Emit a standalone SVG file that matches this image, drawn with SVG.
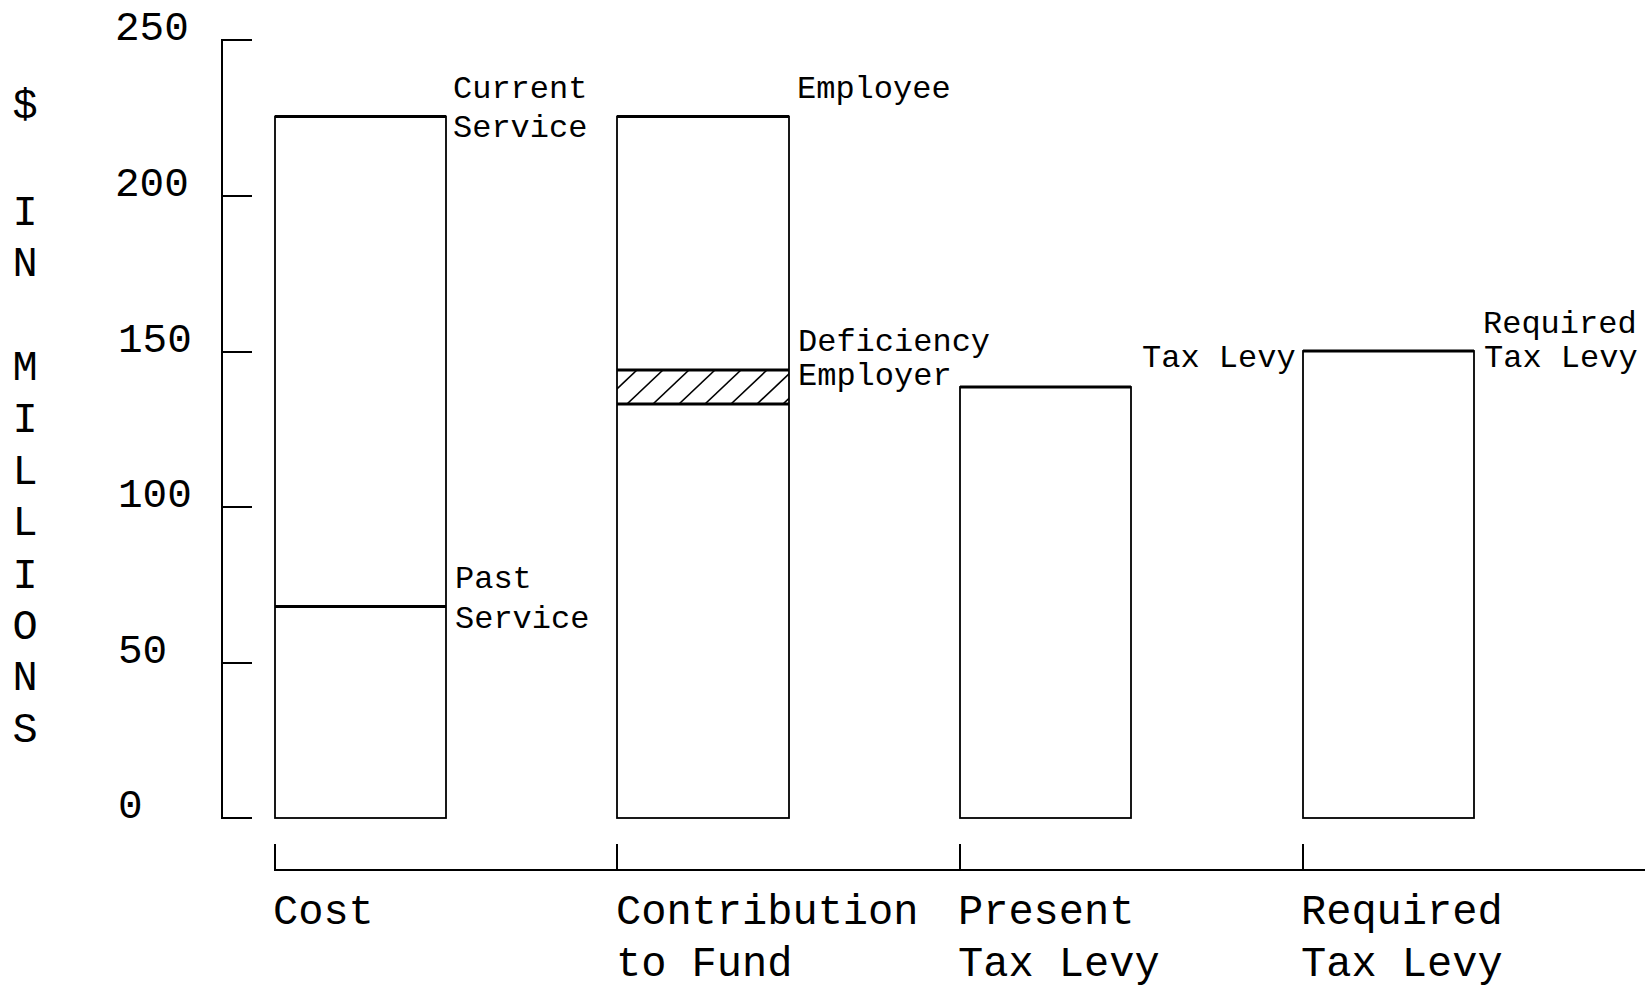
<svg xmlns="http://www.w3.org/2000/svg" width="1645" height="989" viewBox="0 0 1645 989">
<defs>
<style>
.ln{stroke:#000;stroke-width:2;fill:none;stroke-linecap:square}
.bar{stroke:#000;stroke-width:1.8;fill:#fff}
.top{stroke:#000;stroke-width:3;fill:none}
.t{font-family:"Liberation Mono","DejaVu Sans Mono",monospace;fill:#000}
.big{font-size:42px}
.tick{font-size:41px}
.sm{font-size:32px}
.hatch{stroke:#000;stroke-width:1.6}
</style>
<clipPath id="bandClip"><rect x="617" y="370" width="172" height="34"/></clipPath>
</defs>
<rect width="1645" height="989" fill="#fff"/>

<g id="y-axis">
<line class="ln" x1="222" y1="40" x2="222" y2="818"/>
<line class="ln" x1="222" y1="40" x2="251" y2="40"/>
<line class="ln" x1="222" y1="196" x2="251" y2="196"/>
<line class="ln" x1="222" y1="352" x2="251" y2="352"/>
<line class="ln" x1="222" y1="507" x2="251" y2="507"/>
<line class="ln" x1="222" y1="663" x2="251" y2="663"/>
<line class="ln" x1="222" y1="818" x2="251" y2="818"/>
<text class="t tick" x="115" y="40">250</text>
<text class="t tick" x="115" y="196">200</text>
<text class="t tick" x="118" y="352">150</text>
<text class="t tick" x="118" y="507">100</text>
<text class="t tick" x="118" y="663">50</text>
<text class="t tick" x="118" y="818">0</text>
</g>

<g id="y-title" class="t big" text-anchor="middle">
<text x="25" y="118">$</text>
<text x="25" y="225">I</text>
<text x="25" y="276">N</text>
<text x="25" y="380">M</text>
<text x="25" y="432">I</text>
<text x="25" y="484">L</text>
<text x="25" y="535">L</text>
<text x="25" y="588">I</text>
<text x="25" y="639">O</text>
<text x="25" y="690">N</text>
<text x="25" y="742">S</text>
</g>

<g id="x-axis">
<line class="ln" x1="275" y1="870" x2="1645" y2="870"/>
<line class="ln" x1="275" y1="845" x2="275" y2="870"/>
<line class="ln" x1="617" y1="845" x2="617" y2="870"/>
<line class="ln" x1="960" y1="845" x2="960" y2="870"/>
<line class="ln" x1="1303" y1="845" x2="1303" y2="870"/>
</g>

<g id="bar-cost">
<rect class="bar" x="275" y="116.5" width="171" height="701.5"/>
<line class="top" x1="275" y1="116.5" x2="446" y2="116.5"/>
<line class="top" x1="275" y1="606.5" x2="446" y2="606.5"/>
<text class="t sm" x="453" y="98">Current</text>
<text class="t sm" x="453" y="137">Service</text>
<text class="t sm" x="455" y="588">Past</text>
<text class="t sm" x="455" y="628">Service</text>
<text class="t big" x="273" y="924">Cost</text>
</g>

<g id="bar-contribution">
<rect class="bar" x="617" y="116.5" width="172" height="701.5"/>
<line class="top" x1="617" y1="116.5" x2="789" y2="116.5"/>
<g clip-path="url(#bandClip)" class="hatch">
<line x1="575" y1="404" x2="611" y2="370"/>
<line x1="601" y1="404" x2="637" y2="370"/>
<line x1="627" y1="404" x2="663" y2="370"/>
<line x1="653" y1="404" x2="689" y2="370"/>
<line x1="679" y1="404" x2="715" y2="370"/>
<line x1="705" y1="404" x2="741" y2="370"/>
<line x1="731" y1="404" x2="767" y2="370"/>
<line x1="757" y1="404" x2="793" y2="370"/>
<line x1="783" y1="404" x2="819" y2="370"/>
</g>
<line class="top" x1="617" y1="370" x2="789" y2="370"/>
<line class="top" x1="617" y1="404" x2="789" y2="404"/>
<text class="t sm" x="797" y="98">Employee</text>
<text class="t sm" x="798" y="351">Deficiency</text>
<text class="t sm" x="798" y="385">Employer</text>
<text class="t big" x="616" y="924">Contribution</text>
<text class="t big" x="616" y="976">to Fund</text>
</g>

<g id="bar-present">
<rect class="bar" x="960" y="387" width="171" height="431"/>
<line class="top" x1="960" y1="387" x2="1131" y2="387"/>
<text class="t sm" x="1142" y="367">Tax Levy</text>
<text class="t big" x="958" y="924">Present</text>
<text class="t big" x="958" y="976">Tax Levy</text>
</g>

<g id="bar-required">
<rect class="bar" x="1303" y="351" width="171" height="467"/>
<line class="top" x1="1303" y1="351" x2="1474" y2="351"/>
<text class="t sm" x="1483" y="333">Required</text>
<text class="t sm" x="1484" y="367">Tax Levy</text>
<text class="t big" x="1301" y="924">Required</text>
<text class="t big" x="1301" y="976">Tax Levy</text>
</g>
</svg>
